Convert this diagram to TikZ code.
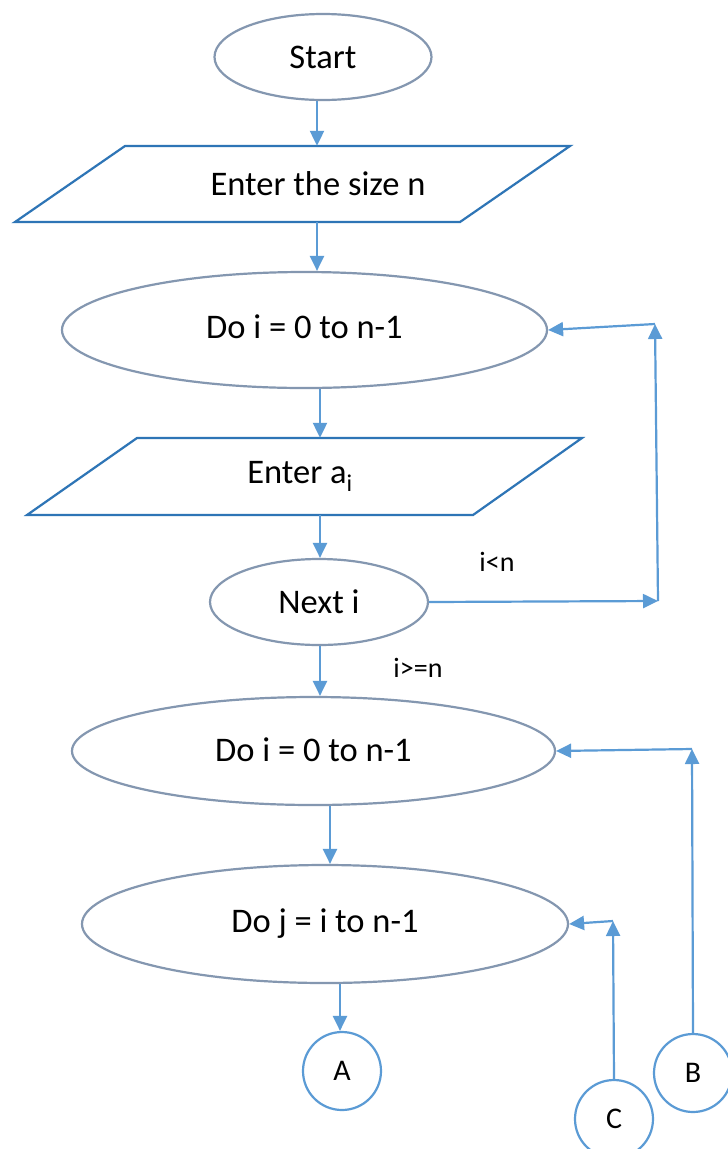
\documentclass[tikz,border=0pt]{standalone}
\usepackage{fontspec}
\setmainfont{Carlito}
\usetikzlibrary{shapes.geometric,arrows.meta}
\definecolor{ellc}{HTML}{8497B0}
\definecolor{parc}{HTML}{2E75B6}
\definecolor{arrc}{HTML}{5B9BD5}
\begin{document}
\begin{tikzpicture}[x=1pt,y=-1pt,
  ell/.style={ellipse,draw=ellc,line width=2.2pt,inner sep=0pt,font=\fontsize{34.5}{40}\selectfont},
  para/.style={draw=parc,line width=2.2pt,line join=miter},
  txt/.style={inner sep=0pt,font=\fontsize{34.5}{40}\selectfont},
  arr/.style={draw=arrc,line width=2.2pt,-{Triangle[length=15pt,width=14pt]}},
  lbl/.style={font=\fontsize{28}{32}\selectfont,inner sep=0pt},
  con/.style={circle,draw=arrc,line width=2.2pt,inner sep=0pt,minimum size=78pt,font=\fontsize{30}{34}\selectfont}]
\useasboundingbox (0,0) rectangle (728,1149);
\fill[white] (0,0) rectangle (728,1149);

% shapes
\node[ell,minimum width=217pt,minimum height=86pt] (start) at (323,57) {Start};
\draw[para] (125,146) -- (570,146) -- (460,222) -- (15,222) -- cycle;
\node[txt,minimum height=76pt] (p1) at (318,184) {Enter the size n};
\node[ell,minimum width=485pt,minimum height=116pt] (do1) at (304.5,330) {\raisebox{6pt}{Do i = 0 to n-1}};
\draw[para] (137,438) -- (582,438) -- (473,515) -- (27,515) -- cycle;
\node[txt,minimum height=77pt] (p2) at (300,476.5) {\raisebox{2pt}{Enter a\textsubscript{i}}};
\node[ell,minimum width=218pt,minimum height=86pt] (next) at (319,602) {Next i};
\node[ell,minimum width=483pt,minimum height=108pt] (do2) at (313.5,751) {\raisebox{3pt}{Do i = 0 to n-1}};
\node[ell,minimum width=486pt,minimum height=118pt] (do3) at (325,924) {\raisebox{6pt}{Do j = i to n-1}};
\node[con] (A) at (342,1071) {A};
\node[con] (B) at (693,1073) {B};
\node[con] (C) at (614,1119) {C};

% labels
\node[lbl] (l1) at (497,562) {i<n};
\node[lbl] (l2) at (418,668) {i>=n};

% main flow
\draw[arr] ([xshift=-6pt]start.south) -- ([xshift=-6pt]start.south |- p1.north);
\draw[arr] ([xshift=-1pt]p1.south) -- ([xshift=-1pt]p1.south |- do1.north);
\draw[arr] ([xshift=15.5pt]do1.south) -- ([xshift=15.5pt]do1.south |- p2.north);
\draw[arr] ([xshift=20pt]p2.south) -- ([xshift=20pt]p2.south |- next.north);
\draw[arr] ([xshift=1pt]next.south) -- ([xshift=1pt]next.south |- do2.north);
\draw[arr] ([xshift=16.5pt]do2.south) -- ([xshift=16.5pt]do2.south |- do3.north);
\draw[arr] ([xshift=-2pt]A.north |- do3.south) -- ([xshift=-2pt]A.north);

% loops
\coordinate (c1) at (658,601);
\coordinate (c2) at (655,324);
\draw[arr] (next.east) -- (c1);
\draw[arr] (c1) -- (c2);
\draw[arr] (c2) -- (do1.east);

\coordinate (c4) at (692,749);
\draw[arr] (B.north) -- (c4);
\draw[arr] (c4) -- (do2.east);

\coordinate (c3) at (613,921);
\draw[arr] (C.north) -- (c3);
\draw[arr] (c3) -- (do3.east);
\end{tikzpicture}
\end{document}
